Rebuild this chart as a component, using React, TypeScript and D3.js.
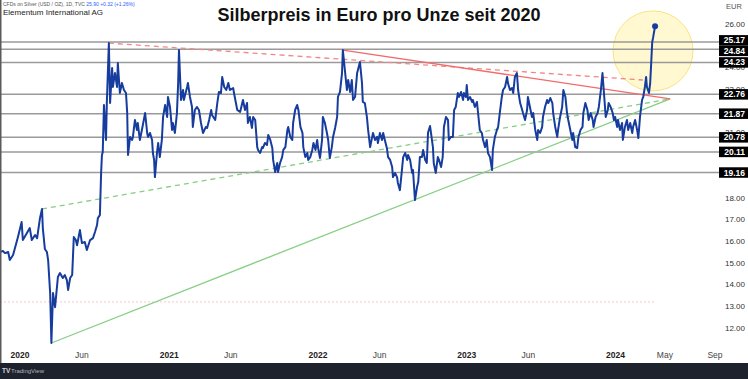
import React from 'react';
import * as d3 from 'd3';

const W = 748;
const H = 379;

// Silver price in EUR per ounce (daily chart)
const silverSeries: [string, number][] = [
  ["2019-11-13",15.50],["2019-11-20",15.55],["2019-11-25",15.45],["2019-12-03",15.50],["2019-12-07",15.13],["2019-12-15",15.36],["2019-12-25",16.05],["2019-12-27",16.19],
  ["2020-01-05",16.88],["2020-01-08",16.05],["2020-01-18",16.37],["2020-01-25",16.60],["2020-01-30",16.05],["2020-02-07",16.28],["2020-02-12",16.14],["2020-02-19",17.06],["2020-02-24",17.48],["2020-02-26",16.60],["2020-03-02",15.64],["2020-03-07",15.50],["2020-03-10",15.13],["2020-03-15",13.60],["2020-03-18",11.31],["2020-03-22",13.61],["2020-03-27",12.96],["2020-04-03",14.35],["2020-04-08",14.53],["2020-04-15",14.30],["2020-04-20",14.44],["2020-04-25",14.21],["2020-04-28",13.75],["2020-05-03",14.30],["2020-05-08",14.44],["2020-05-12",16.19],["2020-05-17",16.05],["2020-05-20",15.81],["2020-05-27",16.51],["2020-06-01",15.91],["2020-06-08",15.96],["2020-06-13",15.59],["2020-06-21",16.05],["2020-06-28",16.14],["2020-07-03",16.42],["2020-07-08",16.74],["2020-07-10",17.06],["2020-07-15",17.20],["2020-07-18",19.14],["2020-07-20",19.97],["2020-07-22",20.10],["2020-07-25",22.27],["2020-07-30",20.66],["2020-08-01",22.36],["2020-08-06",25.12],["2020-08-09",22.36],["2020-08-14",23.97],["2020-08-16",23.10],["2020-08-21",23.74],["2020-08-26",23.10],["2020-08-28",24.20],["2020-09-02",22.82],["2020-09-07",23.28],["2020-09-12",22.96],["2020-09-17",22.82],["2020-09-20",21.90],["2020-09-22",19.97],["2020-09-27",20.80],["2020-10-02",20.66],["2020-10-04",20.80],["2020-10-09",21.58],["2020-10-14",21.12],["2020-10-16",21.44],["2020-10-21",20.66],["2020-10-26",21.12],["2020-11-03",21.90],["2020-11-08",20.98],["2020-11-10",20.80],["2020-11-15",20.98],["2020-11-20",20.66],["2020-11-22",20.06],["2020-11-25",19.74],["2020-11-27",18.95],["2020-12-02",20.06],["2020-12-05",20.52],["2020-12-09",19.87],["2020-12-14",20.66],["2020-12-17",21.72],["2020-12-22",22.27],["2020-12-27",21.72],["2020-12-29",22.64],
  ["2021-01-03",22.18],["2021-01-08",21.12],["2021-01-10",21.44],["2021-01-15",20.98],["2021-01-20",21.90],["2021-01-23",23.28],["2021-01-25",24.80],["2021-01-30",22.50],["2021-02-04",22.96],["2021-02-06",22.50],["2021-02-14",23.10],["2021-02-16",23.28],["2021-02-21",22.64],["2021-02-26",22.18],["2021-02-28",21.26],["2021-03-05",22.04],["2021-03-10",22.18],["2021-03-15",22.04],["2021-03-20",21.44],["2021-03-25",20.98],["2021-04-01",21.26],["2021-04-04",21.21],["2021-04-09",21.58],["2021-04-14",22.04],["2021-04-16",21.81],["2021-04-24",21.58],["2021-04-29",22.36],["2021-05-03",22.87],["2021-05-08",22.82],["2021-05-11",23.56],["2021-05-16",23.10],["2021-05-21",22.96],["2021-05-26",23.28],["2021-05-30",22.96],["2021-06-07",23.05],["2021-06-09",22.82],["2021-06-17",22.04],["2021-06-24",21.95],["2021-07-01",22.50],["2021-07-06",22.04],["2021-07-11",22.36],["2021-07-13",21.44],["2021-07-18",21.72],["2021-07-23",21.21],["2021-07-26",21.72],["2021-07-31",21.58],["2021-08-05",20.33],["2021-08-07",20.20],["2021-08-12",20.06],["2021-08-17",20.33],["2021-08-19",20.29],["2021-08-24",20.52],["2021-08-29",20.43],["2021-09-01",20.89],["2021-09-06",20.66],["2021-09-11",20.29],["2021-09-13",19.74],["2021-09-18",19.18],["2021-09-23",19.60],["2021-09-25",19.18],["2021-09-30",19.60],["2021-10-05",19.87],["2021-10-08",20.20],["2021-10-13",20.33],["2021-10-18",21.12],["2021-10-20",21.26],["2021-10-25",20.80],["2021-10-30",20.66],["2021-11-01",21.44],["2021-11-06",22.04],["2021-11-11",22.27],["2021-11-14",22.04],["2021-11-19",21.26],["2021-11-24",20.98],["2021-11-26",20.33],["2021-12-01",19.87],["2021-12-06",20.06],["2021-12-08",19.74],["2021-12-13",19.87],["2021-12-18",20.20],["2021-12-21",20.52],["2021-12-26",20.20],["2021-12-30",20.66],
  ["2022-01-01",20.33],["2022-01-06",19.83],["2022-01-11",20.66],["2022-01-13",21.72],["2022-01-18",21.44],["2022-01-23",20.98],["2022-01-26",20.66],["2022-01-30",19.83],["2022-02-04",20.33],["2022-02-07",20.80],["2022-02-12",21.21],["2022-02-17",21.72],["2022-02-19",22.64],["2022-02-24",22.87],["2022-03-01",23.74],["2022-03-03",24.80],["2022-03-08",23.88],["2022-03-13",22.96],["2022-03-16",23.42],["2022-03-21",22.87],["2022-03-25",23.42],["2022-03-28",22.50],["2022-04-02",22.64],["2022-04-07",23.74],["2022-04-09",23.88],["2022-04-14",24.25],["2022-04-19",23.28],["2022-04-21",22.41],["2022-04-26",22.36],["2022-05-01",21.72],["2022-05-04",21.12],["2022-05-09",20.33],["2022-05-14",20.80],["2022-05-16",20.98],["2022-05-21",20.66],["2022-05-26",20.80],["2022-05-28",20.52],["2022-06-02",20.98],["2022-06-07",20.66],["2022-06-10",20.98],["2022-06-14",20.66],["2022-06-19",20.29],["2022-06-22",19.87],["2022-06-27",19.74],["2022-07-02",19.41],["2022-07-04",18.95],["2022-07-09",19.14],["2022-07-14",18.95],["2022-07-16",18.68],["2022-07-21",18.35],["2022-07-26",19.28],["2022-07-29",19.87],["2022-08-03",20.06],["2022-08-08",19.74],["2022-08-10",19.97],["2022-08-15",19.74],["2022-08-20",19.14],["2022-08-22",19.28],["2022-08-27",17.89],["2022-09-01",18.49],["2022-09-04",18.72],["2022-09-08",19.87],["2022-09-13",19.87],["2022-09-16",20.20],["2022-09-21",19.74],["2022-09-25",19.60],["2022-09-28",21.00],["2022-10-03",21.30],["2022-10-10",20.33],["2022-10-12",19.60],["2022-10-17",19.14],["2022-10-22",19.87],["2022-10-25",19.74],["2022-10-30",19.41],["2022-11-03",19.87],["2022-11-06",21.26],["2022-11-11",21.72],["2022-11-16",21.58],["2022-11-18",20.66],["2022-11-23",20.80],["2022-11-28",20.80],["2022-12-01",22.04],["2022-12-05",22.18],["2022-12-10",22.82],["2022-12-13",22.64],["2022-12-18",22.87],["2022-12-23",22.50],["2022-12-25",22.82],["2022-12-30",22.64],
  ["2023-01-01",23.19],["2023-01-04",22.50],["2023-01-09",22.64],["2023-01-14",22.41],["2023-01-16",22.50],["2023-01-21",22.18],["2023-01-26",22.41],["2023-01-28",22.04],["2023-02-02",21.12],["2023-02-07",20.98],["2023-02-10",20.66],["2023-02-15",20.33],["2023-02-19",20.66],["2023-02-22",20.06],["2023-02-27",19.87],["2023-03-04",19.28],["2023-03-06",20.20],["2023-03-11",20.80],["2023-03-16",21.12],["2023-03-19",21.26],["2023-03-23",21.90],["2023-03-28",22.64],["2023-03-31",22.96],["2023-04-05",23.10],["2023-04-10",23.56],["2023-04-12",23.28],["2023-04-17",22.96],["2023-04-22",23.05],["2023-04-25",22.82],["2023-04-29",23.56],["2023-05-04",23.74],["2023-05-07",22.96],["2023-05-12",22.36],["2023-05-17",22.04],["2023-05-19",21.90],["2023-05-24",21.58],["2023-05-29",22.04],["2023-05-31",22.64],["2023-06-05",22.18],["2023-06-10",21.72],["2023-06-13",21.90],["2023-06-18",21.12],["2023-06-23",20.66],["2023-06-25",21.12],["2023-06-30",20.98],["2023-07-05",21.26],["2023-07-07",21.72],["2023-07-12",22.18],["2023-07-17",22.50],["2023-07-20",22.36],["2023-07-25",22.59],["2023-07-30",22.36],["2023-08-01",21.90],["2023-08-06",21.26],["2023-08-11",20.80],["2023-08-13",21.12],["2023-08-18",21.72],["2023-08-23",22.18],["2023-08-26",22.96],["2023-08-31",22.64],["2023-09-04",21.90],["2023-09-07",21.58],["2023-09-12",21.12],["2023-09-17",20.66],["2023-09-19",20.98],["2023-09-24",20.33],["2023-09-29",20.29],["2023-10-02",20.80],["2023-10-07",21.12],["2023-10-12",21.26],["2023-10-14",21.90],["2023-10-19",22.36],["2023-10-24",22.04],["2023-10-27",21.58],["2023-11-01",21.90],["2023-11-06",21.58],["2023-11-08",21.26],["2023-11-13",21.72],["2023-11-18",21.90],["2023-11-21",22.18],["2023-11-26",22.96],["2023-11-30",23.74],["2023-12-03",22.96],["2023-12-08",21.72],["2023-12-13",22.04],["2023-12-15",22.36],["2023-12-20",22.18],["2023-12-25",21.90],["2023-12-28",21.58],["2023-12-31",21.72],
  ["2024-01-05",21.26],["2024-01-07",21.58],["2024-01-12",21.12],["2024-01-17",21.44],["2024-01-19",20.66],["2024-01-24",21.26],["2024-01-29",21.58],["2024-02-01",21.12],["2024-02-06",21.44],["2024-02-11",20.98],["2024-02-13",21.26],["2024-02-18",21.58],["2024-02-23",21.12],["2024-02-26",20.75],["2024-03-01",21.72],["2024-03-06",22.50],["2024-03-09",22.64],["2024-03-13",23.10],["2024-03-16",23.56],["2024-03-18",23.10],["2024-03-23",22.82],["2024-03-26",23.28],["2024-03-28",24.02],["2024-03-31",25.17],["2024-04-02",25.36],["2024-04-07",25.90]
];

// Horizontal support / resistance levels
const levelValues = [25.17, 24.84, 24.23, 22.76, 21.87, 20.78, 20.11, 19.16];

// Trend lines: [date, value] end points
const redDashedTrend: [string, number][] = [["2020-08-06", 25.12], ["2024-03-08", 23.42]];
const redSolidTrend: [string, number][] = [["2022-03-03", 24.80], ["2024-05-14", 22.55]];
const greenSolidTrend: [string, number][] = [["2020-03-18", 11.31], ["2024-05-14", 22.55]];
const greenDashedTrend: [string, number][] = [["2020-02-24", 17.48], ["2024-05-14", 22.55]];
const pinkDottedLevel: [string, number][] = [["2019-11-13", 13.2], ["2024-04-07", 13.2]];

// Highlight circle centre
const highlightCentre: [string, number] = ["2024-04-02", 24.76];

// Axis ticks
const yTickValues = [12, 13, 14, 15, 16, 17, 18, 19, 20, 21, 22, 23, 24, 25, 26];
const xTickDates = ["2020-01-01", "2020-06-01", "2021-01-01", "2021-06-01", "2022-01-01", "2022-06-01", "2023-01-01", "2023-06-01", "2024-01-01", "2024-05-01", "2024-09-01"];
const xTickLabels = ["2020", "Jun", "2021", "Jun", "2022", "Jun", "2023", "Jun", "2024", "May", "Sep"];

const titleText = "Silberpreis in Euro pro Unze seit 2020";
const headerSymbol = "CFDs on Silver (USD / OZ), 1D, TVC";
const headerQuote = "25.90  +0.32 (+1.26%)";
const headerAuthor = "Elementum International AG";

const parse = d3.utcParse("%Y-%m-%d");

export default function App() {
  const x = d3.scaleUtc()
    .domain([parse("2020-01-01")!, parse("2024-09-01")!])
    .range([20, 715]);
  const y = d3.scaleLinear().domain([12, 26]).range([328, 24]);

  const pts = silverSeries.map(([d, v]) => [parse(d)!, v] as [Date, number]);
  const line = d3.line<[Date, number]>().x(d => x(d[0])).y(d => y(d[1]));
  const seg = (s: [string, number][]) => line(s.map(([d, v]) => [parse(d)!, v] as [Date, number])) || "";

  const last = pts[pts.length - 1];
  const fmt = d3.format(".2f");
  const font = "'Liberation Sans', Arial, sans-serif";

  // label collision avoidance for level boxes
  const boxH = 10.5;
  const labels = levelValues.map(v => ({ v, yy: y(v) })).sort((a, b) => a.yy - b.yy);
  for (let it = 0; it < 60; it++) {
    for (let i = 1; i < labels.length; i++) {
      const gap = labels[i].yy - labels[i - 1].yy;
      if (gap < boxH) {
        const s = (boxH - gap) / 2;
        labels[i - 1].yy -= s;
        labels[i].yy += s;
      }
    }
  }
  // tick labels that are (almost) fully hidden by level boxes are not drawn
  const visibleTicks = yTickValues.filter(v => {
    const ty = y(v);
    let uncovered = 0;
    for (let s = ty - 3; s <= ty + 3; s += 0.5) {
      const covered = labels.some(l => Math.abs(s - l.yy) <= boxH / 2);
      if (!covered) uncovered += 0.5;
    }
    return uncovered >= 2;
  });

  return (
    <svg width={W} height={H} style={{ position: 'fixed', left: 0, top: 0, background: '#fff' }}>
      <rect x={0} y={0} width={W} height={H} fill="#fff" />

      {/* highlight circle */}
      <circle cx={x(parse(highlightCentre[0])!)} cy={y(highlightCentre[1])} r={40}
        fill="rgba(255,240,150,0.45)" stroke="rgba(245,225,120,0.9)" strokeWidth={1} />

      {/* horizontal levels */}
      {levelValues.map(v => (
        <line key={v} x1={0} x2={720} y1={y(v)} y2={y(v)} stroke="#9a9a9a" strokeWidth={1.5} />
      ))}

      <path d={seg(pinkDottedLevel)} stroke="#f6c8c8" strokeWidth={1} strokeDasharray="2,2" fill="none" />

      {/* trend lines */}
      <path d={seg(greenDashedTrend)} stroke="#86cf82" strokeWidth={1.3} strokeDasharray="5,4" fill="none" />
      <path d={seg(greenSolidTrend)} stroke="#86cf82" strokeWidth={1.3} fill="none" />
      <path d={seg(redDashedTrend)} stroke="#f28686" strokeWidth={1.3} strokeDasharray="5,4" fill="none" />
      <path d={seg(redSolidTrend)} stroke="#f26a6a" strokeWidth={1.3} fill="none" />

      {/* price line */}
      <path d={line(pts) || ""} stroke="#163c9e" strokeWidth={2} fill="none" strokeLinejoin="round" />
      <circle cx={x(last[0])} cy={y(last[1])} r={3} fill="#163c9e" />

      {/* y axis labels */}
      <text x={726} y={9} fontFamily={font} fontSize={7.5} fill="#555">EUR</text>
      {visibleTicks.map(v => (
        <text key={v} x={745} y={y(v)} dy="0.35em" textAnchor="end" fontFamily={font} fontSize={8} fill="#333">{fmt(v)}</text>
      ))}
      {labels.map(l => (
        <g key={l.v}>
          <rect x={719} y={l.yy - boxH / 2} width={W - 719} height={boxH} fill="#000" />
          <text x={745} y={l.yy} dy="0.36em" textAnchor="end" fontFamily={font} fontSize={8.5} fontWeight="bold" fill="#fff">{fmt(l.v)}</text>
        </g>
      ))}

      {/* x axis labels */}
      {xTickDates.map((d, i) => {
        const isYear = /^\d{4}$/.test(xTickLabels[i]);
        return (
          <text key={d} x={x(parse(d)!)} y={357.5} textAnchor="middle" fontFamily={font} fontSize={8.5}
            fontWeight={isYear ? "bold" : "normal"} fill={isYear ? "#222" : "#444"}>{xTickLabels[i]}</text>
        );
      })}

      {/* left border */}
      <rect x={0} y={0} width={1.5} height={363} fill="#5a5a5a" />

      {/* header */}
      <text x={3} y={6} fontFamily={font} fontSize={5} fill="#555">
        {headerSymbol}<tspan fill="#2962ff">{"  " + headerQuote}</tspan>
      </text>
      <text x={3} y={15} fontFamily={font} fontSize={8} fill="#222">{headerAuthor}</text>

      {/* title */}
      <text x={379} y={21} textAnchor="middle" fontFamily={font} fontSize={18} fontWeight="bold" fill="#111">{titleText}</text>

      {/* bottom bar */}
      <rect x={0} y={363} width={W} height={H - 363} fill="#1e222d" />
      <text x={2} y={373} fontFamily={font} fontSize={6.5} fontWeight="bold" fill="#d1d4dc">TV</text>
      <text x={11} y={373} fontFamily={font} fontSize={6} fill="#b2b5be">TradingView</text>
    </svg>
  );
}
